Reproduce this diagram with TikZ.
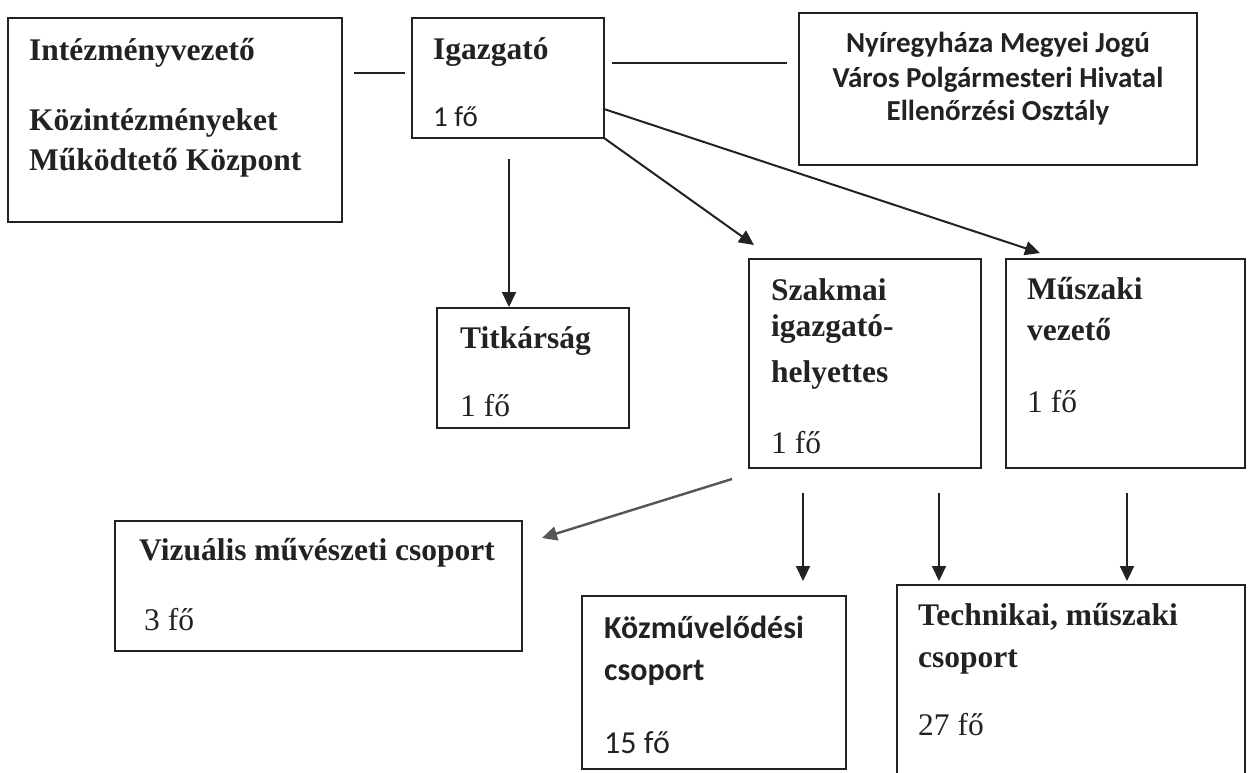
\documentclass[tikz,border=0pt]{standalone}
\usepackage{fontspec}
\setmainfont{Liberation Serif}
\newfontfamily\calfont{Carlito}
\usetikzlibrary{arrows.meta}
\definecolor{ink}{HTML}{222222}
\definecolor{grayink}{HTML}{555555}
\tikzset{
  box/.style={draw=ink, line width=2.3pt, inner sep=0pt, fill=none},
  tb/.style={anchor=base west, inner sep=0pt, text=ink, font=\fontsize{31.5}{38}\selectfont\bfseries},
  tr/.style={anchor=base west, inner sep=0pt, text=ink, font=\fontsize{31.5}{38}\selectfont},
  cb/.style={anchor=base west, inner sep=0pt, text=ink, font=\fontsize{29}{35}\selectfont\calfont\bfseries},
  cr/.style={anchor=base west, inner sep=0pt, text=ink, font=\fontsize{29}{35}\selectfont\calfont},
  cbl/.style={anchor=base west, inner sep=0pt, text=ink, font=\fontsize{32}{38}\selectfont\calfont\bfseries},
  crl/.style={anchor=base west, inner sep=0pt, text=ink, font=\fontsize{32}{38}\selectfont\calfont},
  link/.style={draw=ink, line width=2pt},
  arr/.style={draw=ink, line width=2pt, -{Triangle[length=15pt,width=14pt]}},
  garr/.style={draw=grayink, line width=2.4pt, -{Triangle[length=15pt,width=14pt]}}
}
\begin{document}
\begin{tikzpicture}[x=1pt,y=-1pt]
\useasboundingbox (0,0) rectangle (1251,772);
\clip (0,0) rectangle (1251,772);
% boxes
\node[box, minimum width=334pt, minimum height=204pt] (intez) at (175,120) {};
\node[box, minimum width=192pt, minimum height=120pt] (igaz) at (508,78) {};
\node[box, minimum width=398pt, minimum height=152pt] (nyir) at (998,89) {};
\node[box, minimum width=192pt, minimum height=120pt] (titk) at (533,368) {};
\node[box, minimum width=232pt, minimum height=209pt] (szak) at (865,363.5) {};
\node[box, minimum width=239pt, minimum height=209pt] (musz) at (1125.5,363.5) {};
\node[box, minimum width=407pt, minimum height=130pt] (vizu) at (318.5,586) {};
\node[box, minimum width=264pt, minimum height=173pt] (kozm) at (714,682.5) {};
\node[box, minimum width=348pt, minimum height=230pt] (tech) at (1071,700) {};
% texts
\node[tb] (t1) at (29,60) {Intézményvezető};
\node[tb] (t2) at (29,130) {Közintézményeket};
\node[tb] (t3) at (29,170) {Működtető Központ};
\node[tb] (t4) at (433,59) {Igazgató};
\node[cr] (t5) at (433,126) {1 fő};
\node[cb, anchor=base] (t6) at (998,52) {Nyíregyháza Megyei Jogú};
\node[cb, anchor=base] (t7) at (998,87) {Város Polgármesteri Hivatal};
\node[cb, anchor=base] (t8) at (998,120) {Ellenőrzési Osztály};
\node[tb] (t9) at (460,348) {Titkárság};
\node[tr] (t10) at (460,416) {1 fő};
\node[tb] (t11) at (771,300) {Szakmai};
\node[tb] (t12) at (771,336) {igazgató-};
\node[tb] (t13) at (771,382) {helyettes};
\node[tr] (t14) at (771,453) {1 fő};
\node[tb] (t15) at (1027,299) {Műszaki};
\node[tb] (t16) at (1027,340) {vezető};
\node[tr] (t17) at (1027,412) {1 fő};
\node[tb] (t18) at (139,560) {Vizuális művészeti csoport};
\node[tr] (t19) at (144,630) {3 fő};
\node[cbl] (t20) at (604,638) {Közművelődési};
\node[cbl] (t21) at (604,680) {csoport};
\node[crl] (t22) at (604,753) {15 fő};
\node[tb] (t23) at (918,625) {Technikai, műszaki};
\node[tb] (t24) at (918,667) {csoport};
\node[tr] (t25) at (918,735) {27 fő};
% connector end points
\coordinate (c1a) at (354,73); \coordinate (c1b) at (405,73);
\coordinate (c2a) at (612,63); \coordinate (c2b) at (787,63);
\coordinate (c3a) at (509,159); \coordinate (c3b) at (509,307);
\coordinate (c4a) at (604,138); \coordinate (c4b) at (754,245);
\coordinate (c5a) at (604,109); \coordinate (c5b) at (1040,253);
\coordinate (c6a) at (732,479); \coordinate (c6b) at (542,538);
\coordinate (c7a) at (803,493); \coordinate (c7b) at (803,581);
\coordinate (c8a) at (939,493); \coordinate (c8b) at (939,581);
\coordinate (c9a) at (1127,493); \coordinate (c9b) at (1127,581);
% connectors
\draw[link] (c1a) -- (c1b);
\draw[link] (c2a) -- (c2b);
\draw[arr] (c3a) -- (c3b);
\draw[arr] (c4a) -- (c4b);
\draw[arr] (c5a) -- (c5b);
\draw[garr] (c6a) -- (c6b);
\draw[arr] (c7a) -- (c7b);
\draw[arr] (c8a) -- (c8b);
\draw[arr] (c9a) -- (c9b);
\end{tikzpicture}
\end{document}
